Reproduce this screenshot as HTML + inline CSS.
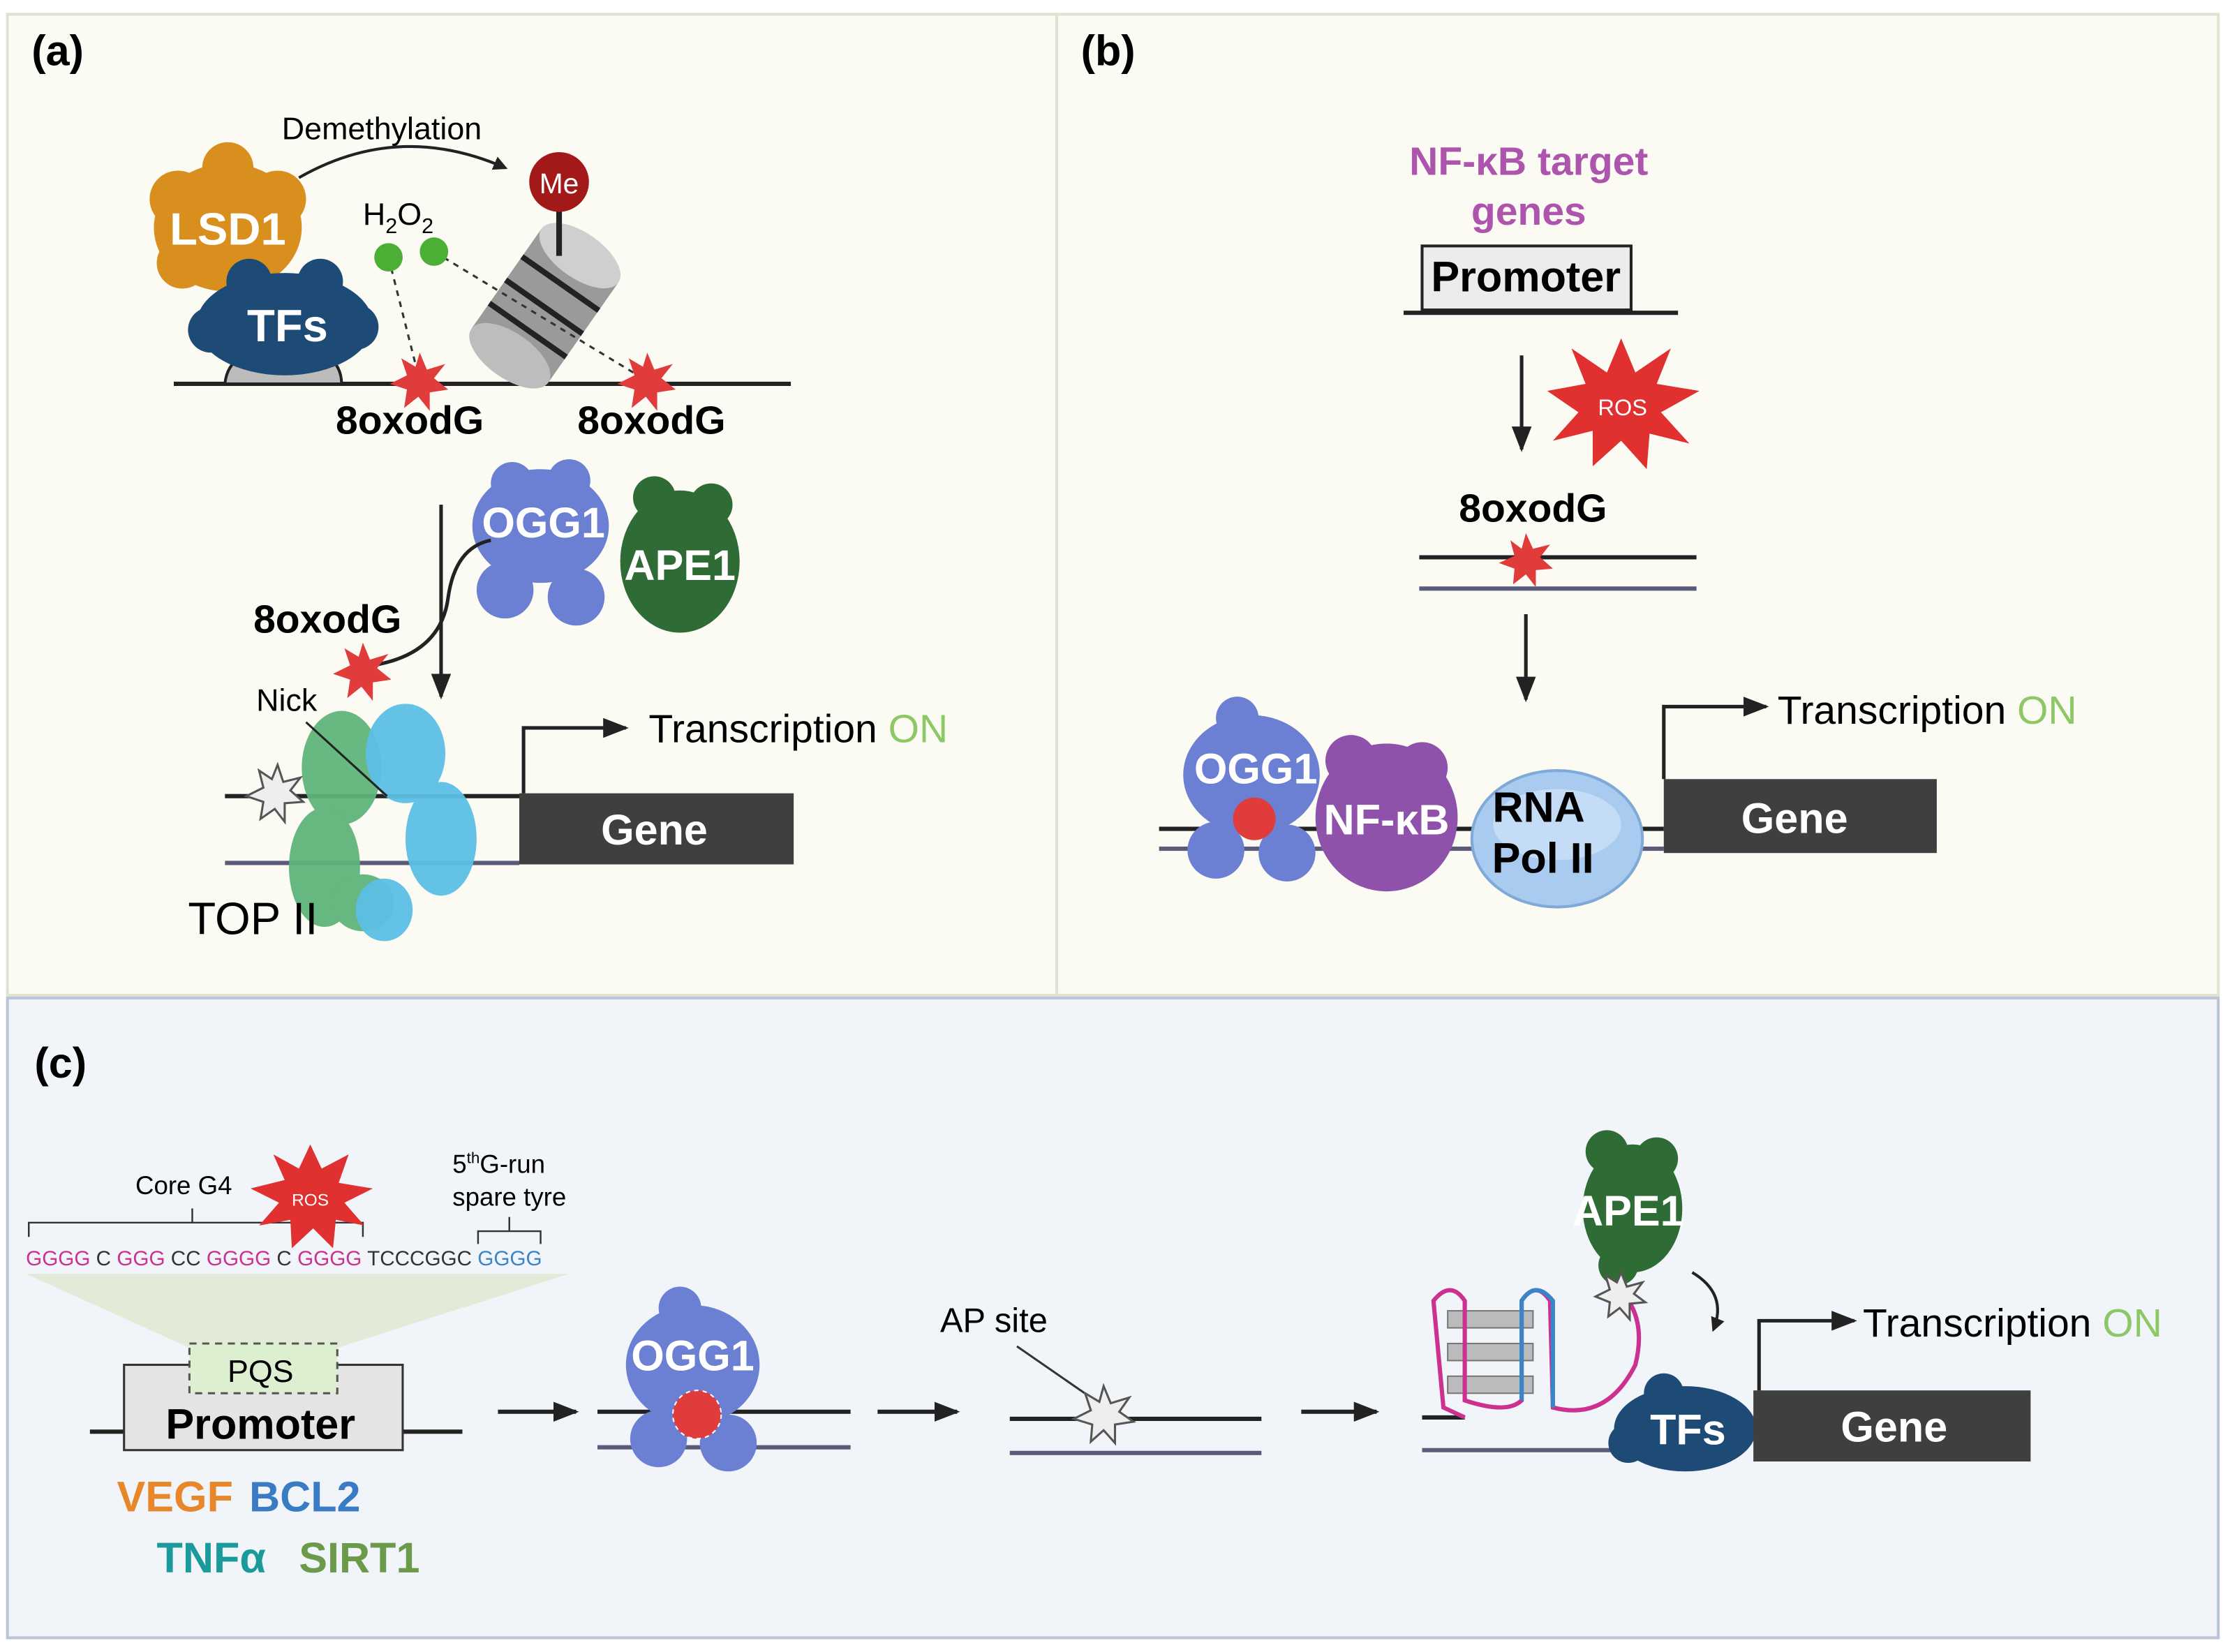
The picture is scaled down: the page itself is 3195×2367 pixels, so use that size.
<!DOCTYPE html>
<html><head><meta charset="utf-8"><style>
html,body{margin:0;padding:0;background:#fff}
svg{display:block}
text{font-family:"Liberation Sans",sans-serif}
</style></head><body>
<svg width="3195" height="2367" viewBox="0 0 1568 1162" xmlns="http://www.w3.org/2000/svg">
<defs>
<marker id="ah" markerWidth="10" markerHeight="10" refX="8" refY="5" orient="auto" markerUnits="userSpaceOnUse"><path d="M0,0 L10,5 L0,10 z" fill="#222"/></marker>
<marker id="ah2" markerWidth="18" markerHeight="14" refX="16" refY="7" orient="auto" markerUnits="userSpaceOnUse"><path d="M0,0 L18,7 L0,14 z" fill="#222"/></marker>
</defs>
<rect width="1568" height="1162" fill="#fff"/>
<rect x="5" y="10" width="738" height="690" fill="#fbfbf4" stroke="#dfe3cf" stroke-width="2"/>
<rect x="743" y="10" width="817" height="690" fill="#fbfbf4" stroke="#dfe3cf" stroke-width="2"/>
<rect x="5" y="702" width="1555" height="450" fill="#f1f4f9" stroke="#b9c5d8" stroke-width="2"/>

<!-- ===== Panel a ===== -->
<text x="22" y="46" font-size="30" font-weight="bold">(a)</text>
<text x="198" y="98" font-size="22">Demethylation</text>
<path d="M210,125 Q280,85 355,118" fill="none" stroke="#222" stroke-width="2" marker-end="url(#ah)"/>
<line x1="122" y1="270" x2="556" y2="270" stroke="#222" stroke-width="3"/>
<g transform="rotate(-55 383 215)">
<rect x="340" y="182" width="86" height="66" fill="#9a9a9a"/>
<ellipse cx="340" cy="215" rx="16" ry="33" fill="#bdbdbd"/>
<ellipse cx="426" cy="215" rx="16" ry="33" fill="#cfcfcf"/>
<line x1="362" y1="182" x2="362" y2="248" stroke="#222" stroke-width="4"/>
<line x1="382" y1="182" x2="382" y2="248" stroke="#222" stroke-width="4"/>
<line x1="402" y1="182" x2="402" y2="248" stroke="#222" stroke-width="4"/>
</g>
<line x1="393" y1="148" x2="393" y2="180" stroke="#222" stroke-width="4"/>
<circle cx="393" cy="128" r="21" fill="#a31818"/>
<text x="393" y="136" font-size="20" fill="#fff" text-anchor="middle">Me</text>
<g fill="#d88f1e"><ellipse cx="160" cy="160" rx="52" ry="45"/><circle cx="125" cy="140" r="20"/><circle cx="195" cy="140" r="20"/><circle cx="160" cy="118" r="18"/><circle cx="128" cy="185" r="18"/></g>
<text x="160" y="172" font-size="32" font-weight="bold" fill="#fff" text-anchor="middle">LSD1</text>
<path d="M158,270 Q160,245 200,242 Q240,245 240,270 z" fill="#bcbcbc" stroke="#222" stroke-width="2"/>
<g fill="#1e4a76"><ellipse cx="200" cy="228" rx="62" ry="36"/><circle cx="148" cy="232" r="16"/><circle cx="250" cy="230" r="16"/><circle cx="175" cy="198" r="16"/><circle cx="225" cy="198" r="16"/></g>
<text x="202" y="240" font-size="32" font-weight="bold" fill="#fff" text-anchor="middle">TFs</text>
<text x="255" y="158" font-size="22">H<tspan font-size="15" dy="6">2</tspan><tspan dy="-6">O</tspan><tspan font-size="15" dy="6">2</tspan></text>
<line x1="273" y1="181" x2="295" y2="268" stroke="#333" stroke-dasharray="4,4" stroke-width="1.5"/>
<line x1="305" y1="177" x2="455" y2="268" stroke="#333" stroke-dasharray="4,4" stroke-width="1.5"/>
<circle cx="273" cy="181" r="10" fill="#4caf35"/><circle cx="305" cy="177" r="10" fill="#4caf35"/>
<polygon points="295,248 300,260 313,256 305,266 315,274 302,276 302,289 294,279 284,287 286,274 274,270 286,264 282,252 292,258" fill="#e03c3c"/>
<polygon points="455,248 460,260 473,256 465,266 475,274 462,276 462,289 454,279 444,287 446,274 434,270 446,264 442,252 452,258" fill="#e03c3c"/>
<text x="288" y="305" font-size="28" font-weight="bold" text-anchor="middle">8oxodG</text>
<text x="458" y="305" font-size="28" font-weight="bold" text-anchor="middle">8oxodG</text>
<g fill="#6b80d2"><ellipse cx="380" cy="370" rx="48" ry="40"/><circle cx="355" cy="415" r="20"/><circle cx="405" cy="420" r="20"/><circle cx="360" cy="340" r="15"/><circle cx="400" cy="338" r="15"/></g>
<text x="382" y="378" font-size="30" font-weight="bold" fill="#fff" text-anchor="middle">OGG1</text>
<g fill="#2e6b35"><ellipse cx="478" cy="395" rx="42" ry="50"/><circle cx="460" cy="350" r="15"/><circle cx="500" cy="355" r="15"/></g>
<text x="478" y="408" font-size="30" font-weight="bold" fill="#fff" text-anchor="middle">APE1</text>
<line x1="310" y1="355" x2="310" y2="490" stroke="#222" stroke-width="2.5" marker-end="url(#ah2)"/>
<text x="178" y="445" font-size="28" font-weight="bold">8oxodG</text>
<path d="M262,468 Q310,460 315,420 Q320,385 345,380" fill="none" stroke="#222" stroke-width="2.5"/>
<polygon points="255,452 260,464 273,460 265,470 275,478 262,480 262,493 254,483 244,491 246,478 234,474 246,468 242,456 252,462" fill="#e03c3c"/>
<line x1="158" y1="560" x2="365" y2="560" stroke="#222" stroke-width="3"/>
<line x1="158" y1="607" x2="365" y2="607" stroke="#5a5a7a" stroke-width="3"/>
<g fill="#5fb47a" opacity="0.95"><ellipse cx="240" cy="540" rx="28" ry="40"/><ellipse cx="228" cy="610" rx="25" ry="42"/><ellipse cx="255" cy="635" rx="22" ry="20"/></g>
<g fill="#5cc0e6" opacity="0.95"><ellipse cx="285" cy="530" rx="28" ry="35"/><ellipse cx="310" cy="590" rx="25" ry="40"/><ellipse cx="270" cy="640" rx="20" ry="22"/></g>
<polygon points="195,538 199,550 211,547 204,556 213,564 200,565 200,578 193,569 183,576 185,564 173,560 185,554 182,542 191,548" fill="#eee" stroke="#555" stroke-width="1.5"/>
<text x="180" y="500" font-size="22">Nick</text>
<line x1="215" y1="508" x2="272" y2="560" stroke="#222" stroke-width="1.5"/>
<text x="132" y="657" font-size="32">TOP II</text>
<rect x="365" y="558" width="193" height="50" fill="#3f3f3f"/>
<text x="460" y="594" font-size="30" font-weight="bold" fill="#fff" text-anchor="middle">Gene</text>
<polyline points="368,558 368,512 440,512" fill="none" stroke="#222" stroke-width="2.5" marker-end="url(#ah2)"/>
<text x="456" y="522" font-size="28">Transcription <tspan fill="#8cc866">ON</tspan></text>

<!-- ===== Panel b ===== -->
<text x="760" y="46" font-size="30" font-weight="bold">(b)</text>
<text x="1075" y="123" font-size="28" font-weight="bold" fill="#ad55ad" text-anchor="middle">NF-κB target</text>
<text x="1075" y="158" font-size="28" font-weight="bold" fill="#ad55ad" text-anchor="middle">genes</text>
<rect x="1000" y="173" width="147" height="45" fill="#ececec" stroke="#222" stroke-width="2"/>
<text x="1073" y="205" font-size="30" font-weight="bold" text-anchor="middle">Promoter</text>
<line x1="987" y1="220" x2="1180" y2="220" stroke="#222" stroke-width="3"/>
<line x1="1070" y1="250" x2="1070" y2="316" stroke="#222" stroke-width="2.5" marker-end="url(#ah2)"/>
<polygon points="1140,238 1150,262 1175,245 1165,270 1195,275 1168,290 1188,312 1160,305 1158,330 1140,310 1120,328 1120,303 1092,310 1110,290 1088,275 1115,270 1105,245 1130,262" fill="#e03030"/>
<text x="1141" y="292" font-size="16" fill="#fff" text-anchor="middle">ROS</text>
<text x="1078" y="367" font-size="28" font-weight="bold" text-anchor="middle">8oxodG</text>
<line x1="998" y1="392" x2="1193" y2="392" stroke="#222" stroke-width="3"/>
<line x1="998" y1="414" x2="1193" y2="414" stroke="#5a5a7a" stroke-width="3"/>
<polygon points="1073,375 1078,386 1090,383 1083,392 1092,400 1080,401 1080,413 1073,404 1064,411 1065,400 1054,396 1065,391 1062,380 1070,386" fill="#e03c3c"/>
<line x1="1073" y1="432" x2="1073" y2="492" stroke="#222" stroke-width="2.5" marker-end="url(#ah2)"/>
<line x1="815" y1="583" x2="1170" y2="583" stroke="#222" stroke-width="3"/>
<line x1="815" y1="597" x2="1170" y2="597" stroke="#5a5a7a" stroke-width="3"/>
<g fill="#6b80d2"><ellipse cx="880" cy="545" rx="48" ry="42"/><circle cx="855" cy="598" r="20"/><circle cx="905" cy="600" r="20"/><circle cx="870" cy="505" r="15"/></g>
<circle cx="882" cy="576" r="15" fill="#e03c3c"/>
<text x="883" y="551" font-size="30" font-weight="bold" fill="#fff" text-anchor="middle">OGG1</text>
<g fill="#8e52aa"><ellipse cx="975" cy="575" rx="50" ry="52"/><circle cx="950" cy="535" r="18"/><circle cx="1000" cy="540" r="18"/></g>
<text x="975" y="587" font-size="30" font-weight="bold" fill="#fff" text-anchor="middle">NF-κB</text>
<ellipse cx="1095" cy="590" rx="60" ry="48" fill="#a9cbef" stroke="#7fa9d6" stroke-width="2"/>
<ellipse cx="1095" cy="580" rx="45" ry="25" fill="#c4dcf5"/>
<text x="1082" y="578" font-size="30" font-weight="bold" text-anchor="middle">RNA</text>
<text x="1085" y="614" font-size="30" font-weight="bold" text-anchor="middle">Pol II</text>
<rect x="1170" y="548" width="192" height="52" fill="#3f3f3f"/>
<text x="1262" y="586" font-size="30" font-weight="bold" fill="#fff" text-anchor="middle">Gene</text>
<polyline points="1170,548 1170,497 1242,497" fill="none" stroke="#222" stroke-width="2.5" marker-end="url(#ah2)"/>
<text x="1250" y="509" font-size="28">Transcription <tspan fill="#8cc866">ON</tspan></text>

<!-- ===== Panel c ===== -->
<text x="24" y="758" font-size="30" font-weight="bold">(c)</text>
<text x="95" y="840" font-size="18">Core G4</text>
<polyline points="20,870 20,860 255,860 255,870" fill="none" stroke="#333" stroke-width="1.2"/>
<line x1="135" y1="850" x2="135" y2="860" stroke="#333" stroke-width="1.2"/>
<polygon points="218,805 226,822 245,812 238,832 262,836 242,846 256,862 236,858 234,878 220,864 205,878 204,858 182,862 196,846 176,836 200,830 192,812 210,822" fill="#e03030"/>
<text x="218" y="848" font-size="12" fill="#fff" text-anchor="middle">ROS</text>
<text x="318" y="825" font-size="18">5<tspan font-size="11" dy="-7">th</tspan><tspan dy="7">G-run</tspan></text>
<text x="318" y="848" font-size="18">spare tyre</text>
<polyline points="336,875 336,866 380,866 380,875" fill="none" stroke="#333" stroke-width="1.2"/>
<line x1="358" y1="856" x2="358" y2="866" stroke="#333" stroke-width="1.2"/>
<text x="18" y="890" font-size="14.5" fill="#333" textLength="363" lengthAdjust="spacingAndGlyphs"><tspan fill="#cc3190">GGGG</tspan> C <tspan fill="#cc3190">GGG</tspan> CC <tspan fill="#cc3190">GGGG</tspan> C <tspan fill="#cc3190">GGGG</tspan> TCCCGGC <tspan fill="#3a85c8">GGGG</tspan></text>
<polygon points="18,896 400,896 237,948 133,948" fill="#dde8cf" opacity="0.8"/>
<line x1="63" y1="1007" x2="325" y2="1007" stroke="#222" stroke-width="3"/>
<rect x="87" y="960" width="196" height="60" fill="#e4e4e4" stroke="#333" stroke-width="1.5"/>
<rect x="133" y="945" width="104" height="35" fill="#dcefd0" stroke="#555" stroke-width="1.5" stroke-dasharray="5,4"/>
<text x="183" y="972" font-size="22" text-anchor="middle">PQS</text>
<text x="183" y="1012" font-size="30" font-weight="bold" text-anchor="middle">Promoter</text>
<text x="82" y="1063" font-size="30" font-weight="bold" fill="#e8862a">VEGF</text>
<text x="175" y="1063" font-size="30" font-weight="bold" fill="#3a7cc4">BCL2</text>
<text x="110" y="1106" font-size="30" font-weight="bold" fill="#1a9a9a">TNFα</text>
<text x="210" y="1106" font-size="30" font-weight="bold" fill="#6a9a4a">SIRT1</text>
<line x1="350" y1="993" x2="405" y2="993" stroke="#222" stroke-width="3" marker-end="url(#ah2)"/>
<line x1="617" y1="993" x2="673" y2="993" stroke="#222" stroke-width="3" marker-end="url(#ah2)"/>
<line x1="915" y1="993" x2="968" y2="993" stroke="#222" stroke-width="3" marker-end="url(#ah2)"/>
<line x1="420" y1="993" x2="598" y2="993" stroke="#222" stroke-width="3"/>
<line x1="420" y1="1018" x2="598" y2="1018" stroke="#5a5a7a" stroke-width="3"/>
<g fill="#6b80d2"><ellipse cx="487" cy="960" rx="47" ry="42"/><circle cx="463" cy="1012" r="20"/><circle cx="512" cy="1015" r="20"/><circle cx="478" cy="920" r="15"/></g>
<circle cx="490" cy="995" r="17" fill="#e03c3c" stroke="#fff" stroke-dasharray="3,3"/>
<text x="487" y="964" font-size="30" font-weight="bold" fill="#fff" text-anchor="middle">OGG1</text>
<text x="661" y="937" font-size="24">AP site</text>
<line x1="715" y1="947" x2="770" y2="985" stroke="#333" stroke-width="1.5"/>
<line x1="710" y1="998" x2="887" y2="998" stroke="#222" stroke-width="3"/>
<line x1="710" y1="1022" x2="887" y2="1022" stroke="#5a5a7a" stroke-width="3"/>
<polygon points="776,975 781,987 794,983 787,993 797,1000 784,1002 784,1015 776,1006 767,1014 768,1002 755,998 767,992 763,980 773,986" fill="#eee" stroke="#555" stroke-width="1.5"/>
<line x1="1000" y1="997" x2="1030" y2="997" stroke="#222" stroke-width="3"/>
<line x1="1000" y1="1020" x2="1160" y2="1020" stroke="#5a5a7a" stroke-width="3"/>
<g fill="#bbb" stroke="#777"><rect x="1018" y="922" width="60" height="12"/><rect x="1018" y="945" width="60" height="12"/><rect x="1018" y="968" width="60" height="12"/></g>
<path d="M1030,997 L1015,990 L1008,915 Q1020,900 1030,915 L1030,985 Q1060,995 1070,985 L1070,915 Q1080,900 1090,915 L1092,990 Q1130,1000 1150,960 Q1160,920 1130,900" fill="none" stroke="#cc3190" stroke-width="3"/>
<path d="M1070,985 L1070,915 Q1080,900 1092,915 L1092,990" fill="none" stroke="#3a85c8" stroke-width="3"/>
<g fill="#2e6b35"><ellipse cx="1148" cy="850" rx="35" ry="45"/><circle cx="1130" cy="810" r="15"/><circle cx="1165" cy="815" r="15"/><circle cx="1138" cy="890" r="14"/></g>
<text x="1145" y="862" font-size="30" font-weight="bold" fill="#fff" text-anchor="middle">APE1</text>
<polygon points="1140,895 1144,905 1155,902 1149,910 1157,916 1146,917 1146,928 1139,920 1131,926 1132,916 1122,912 1132,907 1129,897 1137,902" fill="#eee" stroke="#555" stroke-width="1.5"/>
<path d="M1190,895 Q1215,910 1205,935" fill="none" stroke="#222" stroke-width="2" marker-end="url(#ah)"/>
<g fill="#1e4a76"><ellipse cx="1185" cy="1005" rx="50" ry="30"/><circle cx="1145" cy="1015" r="14"/><circle cx="1170" cy="980" r="14"/></g>
<text x="1187" y="1016" font-size="30" font-weight="bold" fill="#fff" text-anchor="middle">TFs</text>
<rect x="1233" y="978" width="195" height="50" fill="#3f3f3f"/>
<text x="1332" y="1014" font-size="30" font-weight="bold" fill="#fff" text-anchor="middle">Gene</text>
<polyline points="1237,978 1237,929 1304,929" fill="none" stroke="#222" stroke-width="2.5" marker-end="url(#ah2)"/>
<text x="1310" y="940" font-size="28">Transcription <tspan fill="#8cc866">ON</tspan></text>
</svg>
</body></html>
